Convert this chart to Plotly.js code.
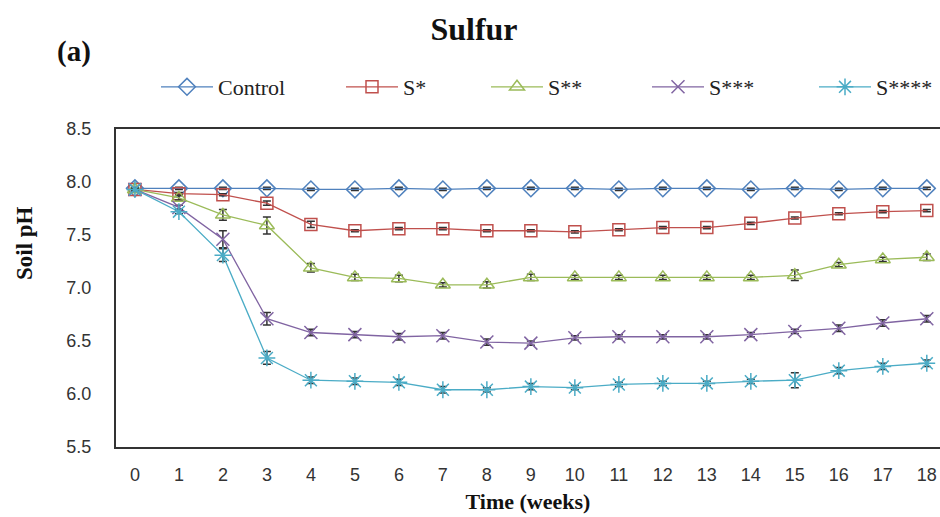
<!DOCTYPE html>
<html>
<head>
<meta charset="utf-8">
<script src="https://cdn.plot.ly/plotly-3.0.1.min.js"></script>
<style>html,body{margin:0;padding:0;background:#fff;}#chart{width:940px;height:517px;}</style>
</head>
<body>
<div id="chart"></div>
<script>
const weeks = [0,1,2,3,4,5,6,7,8,9,10,11,12,13,14,15,16,17,18];
const seriesNames = ["Control","S*","S**","S***","S****"];
const control = [7.94,7.94,7.94,7.94,7.93,7.93,7.94,7.93,7.94,7.94,7.94,7.93,7.94,7.94,7.93,7.94,7.93,7.94,7.94];
const s1 = [7.93,7.89,7.88,7.80,7.60,7.54,7.56,7.56,7.54,7.54,7.53,7.55,7.57,7.57,7.61,7.66,7.70,7.72,7.73];
const s2 = [7.93,7.85,7.69,7.59,7.19,7.10,7.09,7.03,7.03,7.10,7.10,7.10,7.10,7.10,7.10,7.12,7.22,7.27,7.29];
const s3 = [7.93,7.76,7.46,6.71,6.58,6.56,6.54,6.55,6.49,6.48,6.53,6.54,6.54,6.54,6.56,6.59,6.62,6.67,6.71];
const s4 = [7.93,7.72,7.31,6.34,6.13,6.12,6.11,6.04,6.04,6.07,6.06,6.09,6.10,6.10,6.12,6.13,6.22,6.26,6.29];
const errControl = [0.01,0.01,0.01,0.01,0.01,0.01,0.01,0.01,0.01,0.01,0.01,0.01,0.01,0.01,0.01,0.01,0.01,0.01,0.01];
const errS1 = [0.01,0.01,0.01,0.02,0.03,0.01,0.01,0.01,0.01,0.01,0.01,0.01,0.01,0.01,0.01,0.01,0.01,0.01,0.01];
const errS2 = [0.01,0.02,0.05,0.08,0.04,0.03,0.03,0.02,0.03,0.03,0.02,0.02,0.02,0.02,0.02,0.05,0.02,0.02,0.03];
const errS3 = [0.01,0.02,0.08,0.06,0.03,0.03,0.03,0.03,0.03,0.02,0.02,0.02,0.02,0.02,0.02,0.02,0.03,0.03,0.03];
const errS4 = [0.01,0.02,0.06,0.06,0.03,0.03,0.03,0.03,0.02,0.03,0.02,0.02,0.02,0.02,0.02,0.07,0.03,0.03,0.03];
const yTicks = [5.5,6.0,6.5,7.0,7.5,8.0,8.5];

const colors = ["#4F81BD","#C0504D","#9BBB59","#8064A2","#4BACC6"];
const symbols = ["diamond-open","square-open","triangle-up-open","x-thin-open","asterisk-open"];
const sizes = [13,12,13,13,14];
const allY = [control,s1,s2,s3,s4];
const allE = [errControl,errS1,errS2,errS3,errS4];
const legendIds = ["legend","legend2","legend3","legend4","legend5"];

const traces = allY.map((y,i)=>({
  x: weeks, y: y, name: seriesNames[i], type: "scatter", mode: "lines+markers",
  legend: legendIds[i],
  line: {color: colors[i], width: 1.3},
  marker: {symbol: symbols[i], size: sizes[i], color: colors[i], line: {color: colors[i], width: 1.5}},
  error_y: {type: "data", array: allE[i], visible: true, color: "#333", thickness: 1.5, width: 4}
}));

const L = 116, T = 129, B = 70, W = 940 - L, H = 517 - T - B;
const px = v => (v - L) / W;
const py = v => 1 + (T - v) / H;
const serif = "Liberation Serif, Times New Roman, serif";
const legX = [162,347,492,653,820];
const legendFont = {family: serif, size: 22, color: "#222"};
const layout = {
  width: 940, height: 517,
  margin: {l: L, r: 0, t: T, b: B},
  paper_bgcolor: "#fff", plot_bgcolor: "#fff",
  showlegend: true,
  title: {text: "<b>Sulfur</b>", x: 474/940, xanchor: "center", y: 1 - 29/517, yanchor: "middle",
    font: {family: serif, size: 32, color: "#111"}},
  xaxis: {
    range: [-0.43, 18.3], tickmode: "array", tickvals: weeks, ticktext: weeks.map(String),
    showgrid: false, zeroline: false, showline: true, linecolor: "#333", linewidth: 2, mirror: true,
    ticks: "", ticklabelstandoff: 10,
    tickfont: {family: "Liberation Sans, Arial, sans-serif", size: 18, color: "#333"},
    title: {text: "<b>Time (weeks)</b>", standoff: 10,
      font: {family: serif, size: 22, color: "#111"}}
  },
  yaxis: {
    range: [5.5, 8.5], tickmode: "array", tickvals: yTicks, ticktext: yTicks.map(v=>v.toFixed(1)),
    showgrid: false, zeroline: false, showline: true, linecolor: "#333", linewidth: 2,
    ticks: "", ticklabelstandoff: 19,
    tickfont: {family: "Liberation Sans, Arial, sans-serif", size: 18, color: "#333"}
  },
  annotations: [
    {text: "<b>(a)</b>", xref: "paper", yref: "paper", x: px(74), y: py(52),
      xanchor: "center", yanchor: "middle", showarrow: false,
      font: {family: serif, size: 29, color: "#111"}},
    {text: "<b>Soil pH</b>", xref: "paper", yref: "paper", x: px(25), y: py(243),
      xanchor: "center", yanchor: "middle", showarrow: false, textangle: -90,
      font: {family: serif, size: 23, color: "#111"}}
  ]
};
legendIds.forEach((id,i)=>{
  layout[id] = {orientation: "h", x: px(legX[i]-6), xanchor: "left", y: py(87), yanchor: "middle",
    font: legendFont, bgcolor: "rgba(0,0,0,0)", borderwidth: 0, itemwidth: 52};
});
Plotly.newPlot("chart", traces, layout, {displayModeBar: false, staticPlot: true});
</script>
</body>
</html>
